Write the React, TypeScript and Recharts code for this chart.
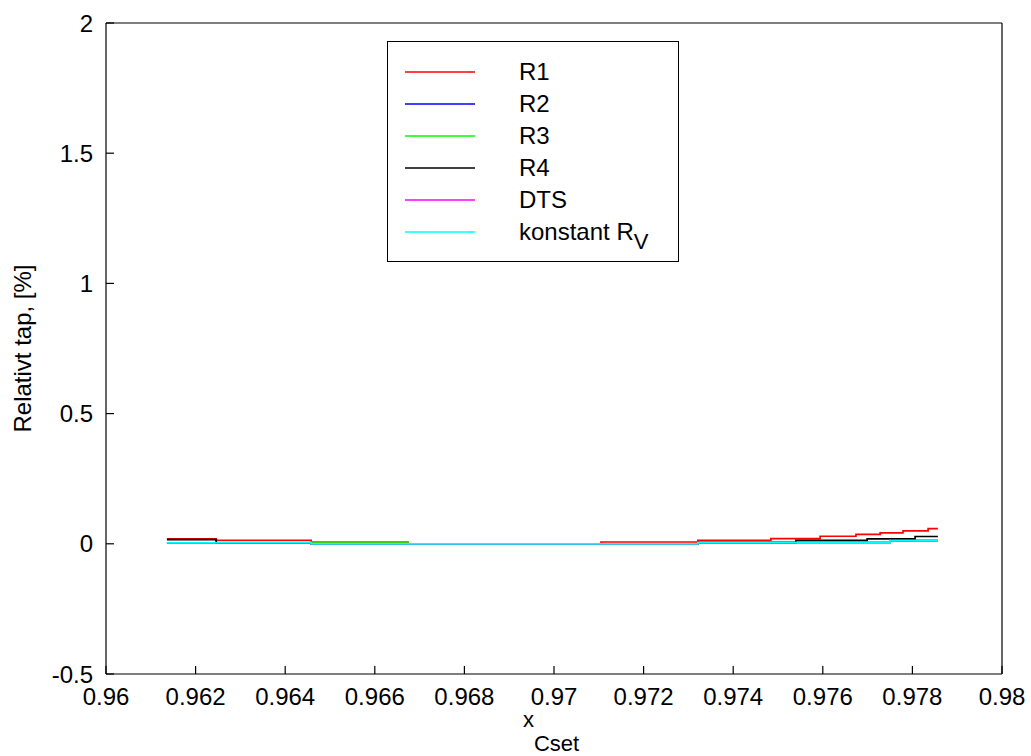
import React from 'react';
import { LineChart, Line, XAxis, YAxis } from 'recharts';

// x_Cset sample points (step breakpoints)
const xCset = [0.96136, 0.96246, 0.96458, 0.96674, 0.97105, 0.97321, 0.97484, 0.9754, 0.97594, 0.97674, 0.97699, 0.97728, 0.9775, 0.97779, 0.97806, 0.97835, 0.97857];

// Relative loss [%] per series
const r1 = [0.019, 0.013, 0.007, 0.0, 0.007, 0.013, 0.020, 0.020, 0.029, 0.036, 0.036, 0.042, 0.042, 0.050, 0.050, 0.058, 0.058];
const r2 = [0.004, 0.004, 0.0, 0.0, 0.0, 0.005, 0.005, 0.005, 0.005, 0.005, 0.005, 0.005, 0.012, 0.012, 0.012, 0.012, 0.012];
const r3 = [0.004, 0.004, 0.007, 0.0, 0.0, 0.005, 0.005, 0.005, 0.005, 0.005, 0.005, 0.005, 0.012, 0.012, 0.012, 0.012, 0.012];
const r4 = [0.016, 0.004, 0.0, 0.0, 0.0, 0.005, 0.005, 0.013, 0.013, 0.013, 0.019, 0.019, 0.019, 0.019, 0.028, 0.028, 0.028];
const dts = [0.004, 0.004, 0.0, 0.0, 0.0, 0.005, 0.005, 0.005, 0.005, 0.005, 0.005, 0.005, 0.012, 0.012, 0.012, 0.012, 0.012];
const konstantRv = [0.004, 0.004, 0.0, 0.0, 0.0, 0.005, 0.005, 0.005, 0.005, 0.005, 0.005, 0.005, 0.012, 0.012, 0.012, 0.012, 0.012];

const xTicks = [0.96, 0.962, 0.964, 0.966, 0.968, 0.97, 0.972, 0.974, 0.976, 0.978, 0.98];
const yTicks = [-0.5, 0, 0.5, 1, 1.5, 2];

const seriesKeys = ['r1', 'r2', 'r3', 'r4', 'dts', 'rv'];
const seriesLabels = ['R1', 'R2', 'R3', 'R4', 'DTS', 'konstant R'];
const seriesSubs = ['', '', '', '', '', 'V'];
const seriesColors = ['#ff0000', '#0000ff', '#00ff00', '#000000', '#ff00ff', '#00ffff'];
const seriesValues = [r1, r2, r3, r4, dts, konstantRv];

const data = xCset.map((x, i) => {
  const row: Record<string, number> = { x };
  seriesKeys.forEach((k, j) => {
    row[k] = seriesValues[j][i];
  });
  return row;
});

const FONT = '"Liberation Sans", Arial, Helvetica, sans-serif';
const tickStyle = { fill: '#000', fontSize: 24, fontFamily: FONT };
const axisStroke = { stroke: '#000', strokeWidth: 1.2 };

const XLabel = (props: any) => {
  const { x, y, width } = props.viewBox;
  return (
    <text x={x + width / 2 - 3} y={y + 53} textAnchor="middle" fontFamily={FONT} fontSize={22} fill="#000">
      <tspan>x</tspan>
      <tspan dy={24}>Cset</tspan>
    </text>
  );
};

const YLabel = (props: any) => {
  const { x, y, height } = props.viewBox;
  const cx = x - 5;
  const cy = y + height / 2;
  return (
    <text x={cx} y={cy} transform={`rotate(-90 ${cx} ${cy})`} textAnchor="middle" fontFamily={FONT} fontSize={24} fill="#000">
      Relativt tap, [%]
    </text>
  );
};

const LegendBox = () => (
  <div
    style={{
      position: 'absolute',
      left: 387,
      top: 41,
      width: 290,
      height: 219,
      border: '1.5px solid #000',
      background: '#fff',
    }}
  >
    <svg width={290} height={219} style={{ display: 'block' }}>
      {seriesLabels.map((lab, i) => {
        const cy = 30 + i * 32;
        return (
          <g key={lab}>
            <line x1={17} x2={87} y1={cy} y2={cy} stroke={seriesColors[i]} strokeWidth={1.5} />
            <text x={131} y={cy + 8} fontFamily={FONT} fontSize={24} fill="#000">
              {lab}
              {seriesSubs[i] ? (
                <tspan fontSize={22} dy={9}>{seriesSubs[i]}</tspan>
              ) : null}
            </text>
          </g>
        );
      })}
    </svg>
  </div>
);

export default function App() {
  return (
    <div style={{ position: 'relative', width: 1031, height: 756, background: '#fff' }}>
      <style>{`html,body{margin:0;padding:0;overflow:hidden;background:#fff}`}</style>
      <LineChart
        width={1031}
        height={756}
        data={data}
        margin={{ top: 22, right: 28, bottom: 22, left: 36 }}
      >
        <XAxis
          xAxisId="bottom"
          dataKey="x"
          type="number"
          domain={[0.96, 0.98]}
          ticks={xTicks}
          allowDataOverflow
          height={60}
          tickSize={-8}
          tickMargin={22}
          tick={tickStyle}
          axisLine={axisStroke}
          tickLine={axisStroke}
          tickFormatter={(v: number) => String(v)}
          interval={0}
          label={<XLabel />}
        />
        <XAxis
          xAxisId="top"
          orientation="top"
          dataKey="x"
          type="number"
          domain={[0.96, 0.98]}
          ticks={xTicks}
          allowDataOverflow
          height={1}
          tickSize={-8}
          tickMargin={0}
          tick={false}
          axisLine={axisStroke}
          tickLine={axisStroke}
          interval={0}
        />
        <YAxis
          yAxisId="left"
          type="number"
          domain={[-0.5, 2]}
          ticks={yTicks}
          allowDataOverflow
          width={70}
          tickSize={-8}
          tickMargin={21}
          tick={tickStyle}
          axisLine={axisStroke}
          tickLine={axisStroke}
          tickFormatter={(v: number) => String(v)}
          interval={0}
          label={<YLabel />}
        />
        <YAxis
          yAxisId="right"
          orientation="right"
          type="number"
          domain={[-0.5, 2]}
          ticks={yTicks}
          allowDataOverflow
          width={1}
          tickSize={-8}
          tickMargin={0}
          tick={false}
          axisLine={axisStroke}
          tickLine={axisStroke}
          interval={0}
        />
        {seriesKeys.map((k, i) => (
          <Line
            key={k}
            xAxisId="bottom"
            yAxisId="left"
            type="stepAfter"
            dataKey={k}
            name={seriesLabels[i] + seriesSubs[i]}
            stroke={seriesColors[i]}
            strokeWidth={1.7}
            dot={false}
            activeDot={false}
            isAnimationActive={false}
          />
        ))}
      </LineChart>
      <LegendBox />
    </div>
  );
}
